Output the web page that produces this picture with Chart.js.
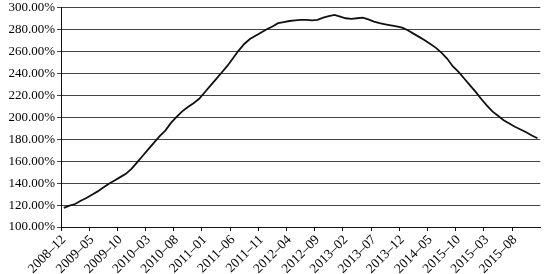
<!DOCTYPE html>
<html>
<head>
<meta charset="utf-8">
<script src="https://cdn.jsdelivr.net/npm/chart.js@4"></script>
<style>
  html, body { margin: 0; padding: 0; background: #fff; }
  #wrap { width: 550px; height: 274px; }
</style>
</head>
<body>
<div id="wrap"><canvas id="chart"></canvas></div>
<script>
// months 2008-12 .. 2015-12 (85 points)
const categories = [];
for (let k = 0; k < 85; k++) {
    const m = 11 + k;
    const y = 2008 + Math.floor(m / 12);
    const mm = (m % 12) + 1;
    categories.push(y + '–' + (mm < 10 ? '0' + mm : mm));
}

// labels shown every 5 months (as printed, incl. the "2015-10")
const tickLabels = ['2008–12', '2009–05', '2009–10', '2010–03', '2010–08', '2011–01',
    '2011–06', '2011–11', '2012–04', '2012–09', '2013–02', '2013–07', '2013–12',
    '2014–05', '2015–10', '2015–03', '2015–08'];

// values in %
const values = [
    117.5, 119.5, 121, 124, 126.5, 129.5, 132.5, 136, 139.5, 142.5,
    145.5, 148.5, 153, 159, 165, 171, 177, 183, 188, 195,
    200.5, 205.5, 209.5, 213, 217, 223, 229, 235, 241, 247,
    254, 261, 267, 271.5, 274.5, 277.5, 280.5, 283, 286, 287,
    288, 288.5, 289, 289, 288.5, 289, 291, 292.5, 293.5, 292,
    290.5, 290, 290.5, 291, 289.5, 287.5, 286, 285, 284, 283,
    282, 279.5, 276.5, 273.5, 270.5, 267, 263.5, 259, 253.5, 246.5,
    241.5, 235.5, 229.5, 223.5, 217, 211, 205.5, 201.5, 197.5, 194.5,
    191.5, 189, 186.5, 183.5, 181
];

const yTicks = [100, 120, 140, 160, 180, 200, 220, 240, 260, 280, 300];

const ctx = document.getElementById('chart').getContext('2d');
const chart = new Chart(ctx, {
    type: 'line',
    data: {
        labels: categories,
        datasets: [{
            data: values,
            borderColor: '#111',
            borderWidth: 1.8,
            pointRadius: 0,
            tension: 0,
            fill: false
        }]
    },
    options: {
        responsive: true,
        maintainAspectRatio: false,
        animation: false,
        layout: { padding: { top: 0, right: 9, left: 0, bottom: 0 } },
        plugins: {
            legend: { display: false },
            tooltip: { enabled: false }
        },
        scales: {
            x: {
                type: 'category',
                offset: true,
                afterFit: s => { s.height = 47; },
                grid: {
                    offset: true,
                    drawOnChartArea: false,
                    tickLength: 4,
                    tickColor: c => (c.index % 5 === 0 ? '#111' : 'rgba(0,0,0,0)')
                },
                border: { color: '#111', width: 1 },
                ticks: {
                    autoSkip: false,
                    maxRotation: 45,
                    minRotation: 45,
                    padding: 1,
                    color: '#000',
                    font: { family: 'Liberation Serif', size: 13.5 },
                    callback: (v, i) => (i % 5 === 0 ? tickLabels[i / 5] : '')
                }
            },
            y: {
                min: 100,
                max: 300,
                afterFit: s => { s.width = 61; },
                afterBuildTicks: s => { s.ticks = yTicks.map(v => ({ value: v })); },
                grid: { color: '#444', lineWidth: 1, tickLength: 4 },
                border: { color: '#111', width: 1 },
                ticks: {
                    padding: 2,
                    color: '#000',
                    font: { family: 'Liberation Serif', size: 13, lineHeight: 0.9 },
                    callback: v => v.toFixed(2) + '%'
                }
            }
        }
    }
});
</script>
</body>
</html>
